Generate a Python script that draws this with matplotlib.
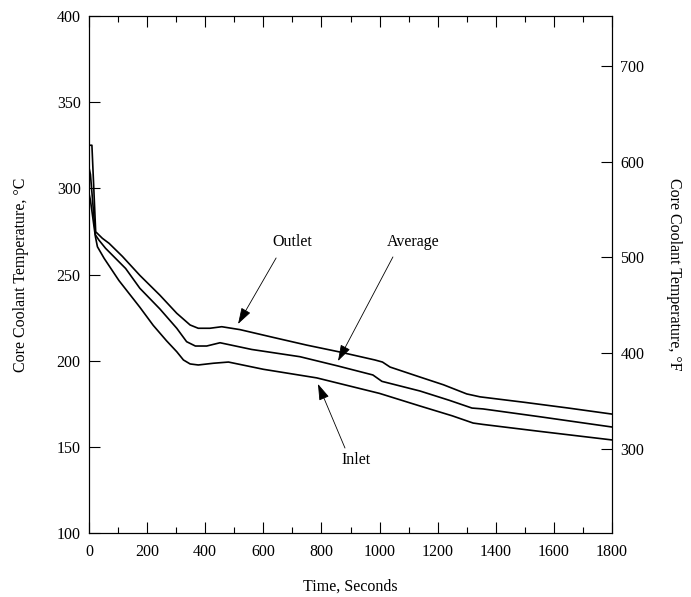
import matplotlib.pyplot as plt
from matplotlib.ticker import MultipleLocator

plt.rcParams['font.family'] = ['Liberation Serif', 'DejaVu Serif']

# coolant temperatures, deg C, versus time in seconds
outlet_t = [0, 10, 23, 46, 69, 115, 175, 244, 302, 348, 376, 416, 457,
            520, 634, 750, 864, 984, 1010, 1036, 1139, 1220, 1300, 1346, 1500, 1650, 1800]
outlet_c = [325, 325, 274.8, 271, 268.1, 260.5, 249.5, 238, 227.5, 220.7, 218.8, 218.8, 219.7,
            218, 213.5, 209, 205, 200.4, 199.2, 196.3, 190.5, 186, 180.7, 179, 175.8, 172.5, 169]

average_t = [0, 5, 22, 34, 57, 126, 175, 244, 302, 336, 366, 405, 451, 560, 726, 857, 977, 1008,
             1139, 1240, 1318, 1356, 1550, 1800]
average_c = [312, 308, 273, 270, 265.2, 253.5, 242, 230, 218.8, 211, 208.5, 208.5, 210.4,
             206.5, 202.3, 196.9, 191.7, 188, 182.4, 177, 172.5, 172, 167.5, 161.5]

inlet_t = [0, 5, 22, 29, 52, 103, 175, 221, 267, 302, 325, 348, 376, 428, 480, 600, 784, 1000,
           1139, 1250, 1322, 1356, 1550, 1800]
inlet_c = [297, 293, 272, 266.1, 259.4, 246.5, 231, 220.5, 211.5, 205.2, 200.4, 198.1, 197.5, 198.5,
           199.2, 195, 190, 181, 173.7, 168, 163.8, 163, 159, 154]

fig = plt.figure(figsize=(6.91, 5.97), dpi=100)
ax = fig.add_axes([0.1288, 0.1072, 0.7569, 0.8660])

for t, c in [(outlet_t, outlet_c), (average_t, average_c), (inlet_t, inlet_c)]:
    ax.plot(t, c, color='black', lw=1.2)

ax.set_xlim(0, 1800)
ax.set_ylim(100, 400)
ax.xaxis.set_major_locator(MultipleLocator(200))
ax.xaxis.set_minor_locator(MultipleLocator(100))
ax.yaxis.set_major_locator(MultipleLocator(50))
ax.tick_params(axis='x', which='both', direction='in', top=True, labelsize=11.5, pad=8)
ax.tick_params(axis='y', which='both', direction='in', right=False, labelsize=11.5, pad=6)
ax.tick_params(which='major', length=8, width=0.8)
ax.tick_params(which='minor', length=4, width=0.8)
ax.set_xlabel('Time, Seconds', fontsize=11.5, labelpad=13)
ax.set_ylabel('Core Coolant Temperature, °C', fontsize=11.5, labelpad=20)

# Fahrenheit scale on the right
ax2 = ax.twinx()
ax2.set_ylim(100 * 9 / 5 + 32, 400 * 9 / 5 + 32)
ax2.yaxis.set_major_locator(MultipleLocator(100))
ax2.tick_params(axis='y', direction='in', length=8, width=0.8, labelsize=11.5, pad=6)
ax2.set_ylabel('Core Coolant Temperature, °F', fontsize=11.5, rotation=270, labelpad=27)

arrow = dict(arrowstyle='-|>,head_length=1.0,head_width=0.32', lw=0.6, color='black',
             shrinkA=0, shrinkB=0)
ax.annotate('', xy=(513, 221.3), xytext=(644, 259.6), arrowprops=arrow)
ax.annotate('', xy=(857, 199.8), xytext=(1046, 260.2), arrowprops=arrow)
ax.annotate('', xy=(788, 186.5), xytext=(881, 149.3), arrowprops=arrow)
ax.text(699, 268.9, 'Outlet', ha='center', va='center', fontsize=11.5)
ax.text(1115, 268.9, 'Average', ha='center', va='center', fontsize=11.5)
ax.text(919, 142.4, 'Inlet', ha='center', va='center', fontsize=11.5)

fig.savefig('out.png', dpi=100)
